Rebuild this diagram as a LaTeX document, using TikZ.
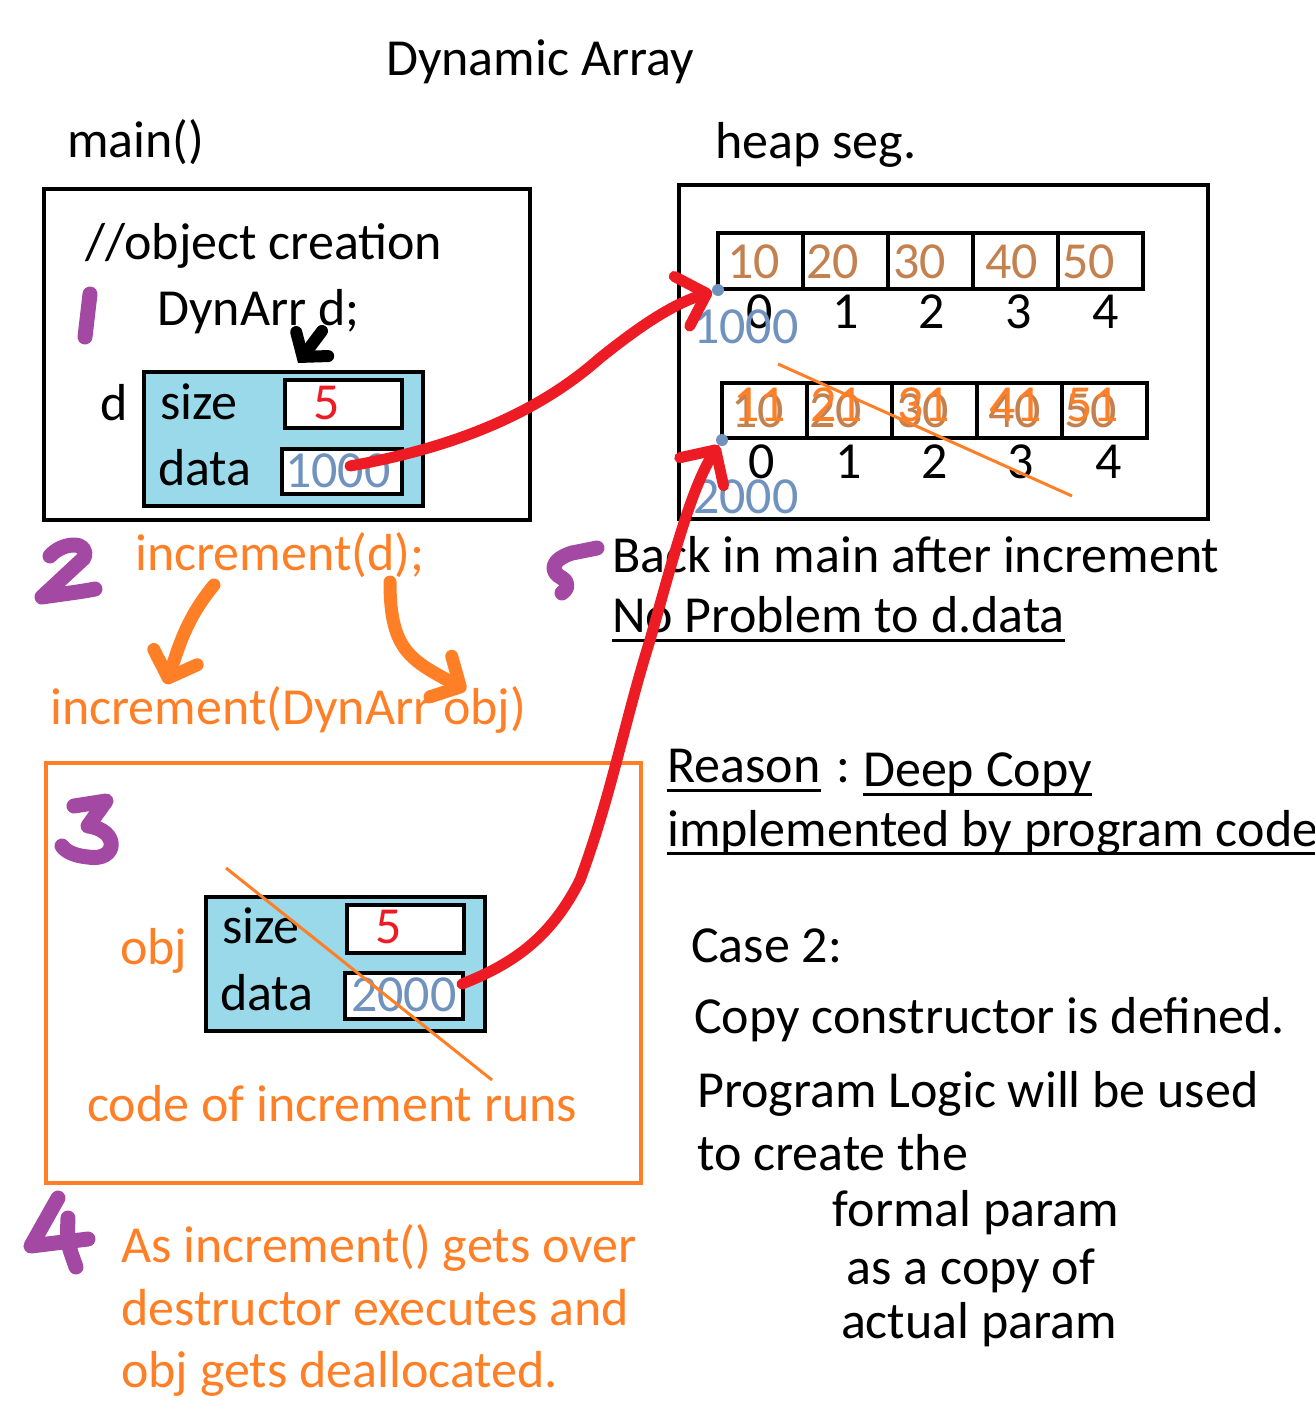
\documentclass[tikz,border=0pt]{standalone}
\usepackage{fontspec}
\setmainfont{Carlito}
\usetikzlibrary{arrows.meta}
\definecolor{myorange}{HTML}{FF7F27}
\definecolor{mypurple}{HTML}{A349A4}
\definecolor{myred}{HTML}{ED1C24}
\definecolor{mybrown}{HTML}{C3814F}
\definecolor{myblue}{HTML}{7092BE}
\definecolor{mycyan}{HTML}{99D9EA}
\begin{document}
\begin{tikzpicture}[x=1pt,y=-1pt,
  txt/.style={font=\fontsize{52}{60}\selectfont, inner sep=0pt, anchor=base west},
  ctxt/.style={txt, anchor=base},
  frame/.style={draw, line width=4pt},
  structbox/.style={draw, line width=4pt, fill=mycyan},
  valbox/.style={draw, line width=4pt, fill=white},
  cell/.style={draw, line width=4pt, minimum width=85pt, minimum height=56pt, inner sep=0pt},
  digit/.style={draw=mypurple, line width=15pt, line cap=round, line join=round},
  redarrow/.style={draw=myred, line width=11pt, line cap=round, line join=round,
     -{Straight Barb[length=26pt, width=52pt, line cap=round, line join=round]}},
  orangearrow/.style={draw=myorange, line width=13pt, line cap=round, line join=round,
     -{Straight Barb[length=22pt, width=46pt, line cap=round, line join=round]}},
  strike/.style={draw=myorange, line width=3pt},
  uline/.style={draw, line width=3pt}
]
\useasboundingbox (0,0) rectangle (1314,1421);

% titles
\node[ctxt] (title) at (540,76) {Dynamic Array};
\node[txt] (mainlbl) at (67,157) {main()};
\node[txt] (heaplbl) at (715,158) {heap seg.};

% main frame
\node[frame, minimum width=486pt, minimum height=331pt, anchor=north west, inner sep=0pt] (mainbox) at (42,187) {};
\node[txt] (objcr) at (85,259) {//object creation};
\node[txt] (dynarr) at (157,325) {DynArr d;};
\node[txt] (dlbl) at (100,420) {d};
\node[structbox, minimum width=279pt, minimum height=134pt, anchor=north west, inner sep=0pt] (dbox) at (142,370) {};
\node[txt] (dsize) at (160,419) {size};
\node[txt] (ddata) at (158,485) {data};
\node[valbox, minimum width=117pt, minimum height=48pt, anchor=north west, inner sep=0pt] (dsizev) at (283,378) {};
\node[ctxt, text=myred] (dfive) at (327,419) {5};
\node[valbox, minimum width=120pt, minimum height=45pt, anchor=north west, inner sep=0pt] (ddatav) at (280,447) {};
\node[txt, text=myblue] (dthousand) at (285,487) {1000};

% heap frame
\node[frame, minimum width=529pt, minimum height=334pt, anchor=north west, inner sep=0pt] (heapbox) at (677,183) {};
% array 1
\foreach \i in {0,...,4} {
  \node[cell] (a\i) at (760.5+85*\i,261) {};
}
\node[txt, text=mybrown] (a0v) at (727,278) {10};
\node[txt, text=mybrown] (a1v) at (806,278) {20};
\node[txt, text=mybrown] (a2v) at (893,278) {30};
\node[txt, text=mybrown] (a3v) at (985,278) {40};
\node[txt, text=mybrown] (a4v) at (1062,278) {50};
\node[ctxt] (ai0) at (760,328) {0};
\node[ctxt] (ai1) at (846,328) {1};
\node[ctxt] (ai2) at (932,328) {2};
\node[ctxt] (ai3) at (1019,328) {3};
\node[ctxt] (ai4) at (1106,328) {4};
\node[circle, fill=myblue, inner sep=0pt, minimum size=12pt] (dot1) at (718,290) {};
\node[txt, text=myblue] (addr1) at (693,343) {1000};

% array 2
\foreach \i in {0,...,4} {
  \node[cell, minimum height=55pt] (b\i) at (764.5+85*\i,410.5) {};
}
\node[txt, text=mybrown] (b0v) at (731,427) {10};
\node[txt, text=mybrown] (b1v) at (809,427) {20};
\node[txt, text=mybrown] (b2v) at (896,427) {30};
\node[txt, text=mybrown] (b3v) at (988,427) {40};
\node[txt, text=mybrown] (b4v) at (1064,427) {50};
\node[txt, text=myorange] (b0n) at (733,421) {11};
\node[txt, text=myorange] (b1n) at (810,421) {21};
\node[txt, text=myorange] (b2n) at (897,421) {31};
\node[txt, text=myorange] (b3n) at (989,421) {41};
\node[txt, text=myorange] (b4n) at (1066,421) {51};
\node[ctxt] (bi0) at (762,478) {0};
\node[ctxt] (bi1) at (849,478) {1};
\node[ctxt] (bi2) at (935,478) {2};
\node[ctxt] (bi3) at (1021,478) {3};
\node[ctxt] (bi4) at (1109,478) {4};
\node[circle, fill=myblue, inner sep=0pt, minimum size=12pt] (dot2) at (722,440) {};
\node[txt, text=myblue] (addr2) at (693,513) {2000};
\coordinate (s1a) at (778,364);
\coordinate (s1b) at (1072,496);
\draw[strike] (s1a) -- (s1b);

% step 2
\node[txt, text=myorange] (inccall) at (135,570) {increment(d);};
\node[txt, text=myorange] (incdef) at (50,724) {increment(DynArr obj)};
\coordinate (oa1s) at (214,585);
\coordinate (oa1e) at (166,684);
\coordinate (oa2s) at (390,582);
\coordinate (oa2e) at (466,690);
\draw[orangearrow] (oa1s) .. controls (185,620) and (178,650) .. (oa1e);
\draw[orangearrow] (oa2s) .. controls (390,650) and (410,660) .. (oa2e);

% step 5 text
\node[txt] (back) at (612,572) {Back in main after increment};
\node[txt] (noprob) at (612,632) {No Problem to d.data};
\draw[uline] ([yshift=-8pt]noprob.base west) -- ([yshift=-8pt]noprob.base east);

\node[txt] (reason) at (667,782) {Reason};
\node[txt] (colon) at (836,782) {:};
\node[txt] (deep) at (863,786) {Deep Copy};
\node[txt] (impl) at (667,846) {implemented by program code};
\draw[uline] ([yshift=-8pt]reason.base west) -- ([yshift=-8pt]reason.base east);
\draw[uline] ([yshift=-8pt]deep.base west) -- ([yshift=-8pt]deep.base east);
\draw[uline] ([yshift=-7pt]impl.base west) -- ([yshift=-7pt]impl.base east);

% increment frame
\node[draw=myorange, line width=4pt, minimum width=595pt, minimum height=420pt, anchor=north west, inner sep=0pt] (incbox) at (44,761) {};
\node[txt, text=myorange] (objlbl) at (120,964) {obj};
\node[structbox, minimum width=279pt, minimum height=134pt, anchor=north west, inner sep=0pt] (obox) at (204,895) {};
\node[txt] (osize) at (222,943) {size};
\node[txt] (odata) at (220,1010) {data};
\node[valbox, minimum width=117pt, minimum height=48pt, anchor=north west, inner sep=0pt] (osizev) at (345,903) {};
\node[ctxt, text=myred] (ofive) at (389,943) {5};
\node[valbox, minimum width=118pt, minimum height=46pt, anchor=north west, inner sep=0pt] (odatav) at (343,971) {};
\node[txt, text=myblue] (otwothousand) at (351,1011) {2000};
\coordinate (s2a) at (226,868);
\coordinate (s2b) at (492,1080);
\draw[strike] (s2a) -- (s2b);
\node[txt, text=myorange] (coderuns) at (87,1121) {code of increment runs};

% step 4 text
\node[txt, text=myorange] (as1) at (121,1262) {As increment() gets over};
\node[txt, text=myorange] (as2) at (121,1325) {destructor executes and};
\node[txt, text=myorange] (as3) at (121,1387) {obj gets deallocated.};

% case 2 text
\node[txt] (case) at (691,962) {Case 2:};
\node[txt] (copyc) at (694,1033) {Copy constructor is defined.};
\node[txt] (plogic) at (697,1107) {Program Logic will be used};
\node[txt] (tocreate) at (697,1170) {to create the};
\node[ctxt] (formal) at (976,1226) {formal param};
\node[ctxt] (ascopy) at (971,1284) {as a copy of};
\node[ctxt] (actual) at (979,1338) {actual param};

% black arrow
\coordinate (bas) at (322,331);
\coordinate (bae) at (298,363);
\draw[line width=12pt, line cap=round, -{Straight Barb[length=16pt, width=40pt, line cap=round]}] (bas) -- (bae);

% red pointers
\coordinate (r1s) at (350,466);
\draw[redarrow] (r1s) .. controls (440,450) and (530,420) .. (600,358)
   .. controls (635,330) and (670,305) .. (dot1);
\coordinate (r2s) at (462,984);
\draw[redarrow] (r2s) .. controls (510,965) and (550,940) .. (580,880)
   .. controls (610,800) and (625,720) .. (650,640)
   .. controls (670,570) and (690,490) .. (dot2);

% purple step digits
\draw[digit] (90,294) .. controls (88,315) .. (85,337);
\draw[digit] (50,556) .. controls (62,542) and (90,540) .. (84,558) -- (42,597) .. controls (62,594) and (80,592) .. (95,589);
\draw[digit] (597,548) -- (572,553) .. controls (550,560) and (550,572) .. (562,578) .. controls (570,583) and (567,590) .. (562,593);
\draw[digit] (74,806) -- (106,801) -- (88,826) .. controls (120,830) and (118,862) .. (88,857) .. controls (76,856) and (66,852) .. (62,846);
\draw[digit] (58,1198) -- (31,1246) -- (88,1239);
\draw[digit] (68,1218) .. controls (67,1242) .. (76,1267);
\end{tikzpicture}
\end{document}
